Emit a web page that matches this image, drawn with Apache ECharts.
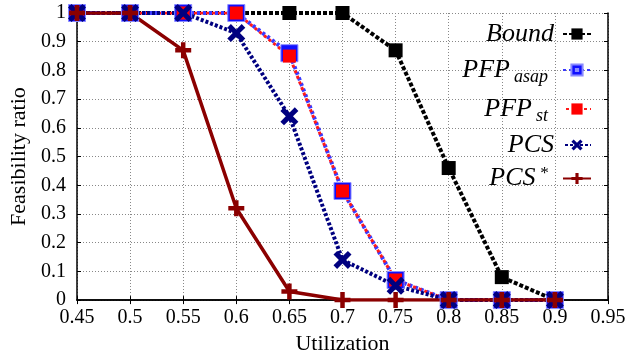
<!DOCTYPE html>
<html><head><meta charset="utf-8">
<script src="https://cdn.jsdelivr.net/npm/echarts@6/dist/echarts.min.js"></script>
<style>html,body{margin:0;padding:0;background:#fff}#c{width:641px;height:360px}</style>
</head><body><div id="c"></div>
<script>
const utilization = [0.45, 0.5, 0.55, 0.6, 0.65, 0.7, 0.75, 0.8, 0.85, 0.9];
const bound   = [1, 1, 1, 1, 1, 1, 0.87, 0.46, 0.08, 0];
const pfpAsap = [1, 1, 1, 1, 0.86, 0.38, 0.07, 0, 0, 0];
const pfpSt   = [1, 1, 1, 1, 0.85, 0.38, 0.07, 0, 0, 0];
const pcs     = [1, 1, 1, 0.93, 0.64, 0.14, 0.05, 0, 0, 0];
const pcsStar = [1, 1, 0.87, 0.32, 0.03, 0, 0, 0, 0, 0];

const serif = "'Liberation Serif'";
const pair = arr => utilization.map((u, i) => [u, arr[i]]);
const crossPath = 'path://M2,0 L5,3 L8,0 L10,2 L7,5 L10,8 L8,10 L5,7 L2,10 L0,8 L3,5 L0,2 Z';
const plusPath = 'path://M3.6,0 H6.4 V3.6 H10 V6.4 H6.4 V10 H3.6 V6.4 H0 V3.6 H3.6 Z';
const openRect = 'path://M0,0 H10 V10 H0 Z M4,4 V6 H6 V4 Z';

const chart = echarts.init(document.getElementById('c'));
const axisCommon = {
  type: 'value',
  axisLine: { show: true, lineStyle: { color: '#000', width: 1.5 } },
  axisTick: { show: true, inside: true, length: 4, lineStyle: { color: '#000' } },
  splitLine: { show: true, lineStyle: { color: '#888', type: [1, 2], width: 1 } },
};
chart.setOption({
  animation: false,
  backgroundColor: '#fff',
  grid: { left: 77, right: 33, top: 13, bottom: 58, show: false },
  xAxis: [{
    ...axisCommon, min: 0.45, max: 0.95, interval: 0.05,
    name: 'Utilization', nameLocation: 'middle', nameGap: 32,
    nameTextStyle: { fontFamily: serif, fontSize: 22, color: '#000' },
    axisLabel: { fontFamily: serif, fontSize: 20, color: '#000', margin: 8 },
  }, {
    ...axisCommon, position: 'top', min: 0.45, max: 0.95, interval: 0.05,
    axisLabel: { show: false }, splitLine: { show: false },
  }],
  yAxis: [{
    ...axisCommon, min: 0, max: 1, interval: 0.1,
    name: 'Feasibility ratio', nameLocation: 'middle', nameGap: 44,
    nameTextStyle: { fontFamily: serif, fontSize: 22, color: '#000' },
    axisLabel: { fontFamily: serif, fontSize: 20, color: '#000', margin: 11 },
  }, {
    ...axisCommon, position: 'right', min: 0, max: 1, interval: 0.1,
    axisLabel: { show: false }, splitLine: { show: false },
  }],
  legend: {
    orient: 'vertical', right: 44, top: 16, align: 'right',
    itemWidth: 28, itemHeight: 14, itemGap: 7,
    formatter: function (name) {
      if (name === 'PFP_asap') return '{m|PFP}{s|asap}';
      if (name === 'PFP_st') return '{m|PFP}{s|st}';
      if (name === 'PCS*') return '{m|PCS}{p|*}';
      return '{m|' + name + '}';
    },
    textStyle: {
      color: '#000', fontFamily: serif,
      rich: {
        m: { fontFamily: serif, fontStyle: 'italic', fontSize: 26, color: '#000', lineHeight: 26, padding: [0, 4, 0, 0] },
        s: { fontFamily: serif, fontStyle: 'italic', fontSize: 18, color: '#000', lineHeight: 26, padding: [14, 10, 0, 0] },
        p: { fontFamily: serif, fontStyle: 'italic', fontSize: 17, color: '#000', lineHeight: 26, padding: [0, 10, 10, 0] },
      }
    },
    data: ['Bound', 'PFP_asap', 'PFP_st', 'PCS', 'PCS*'],
  },
  series: [
    { name: 'Bound', type: 'line', data: pair(bound), symbol: 'rect', symbolSize: 14,
      itemStyle: { color: '#000' }, lineStyle: { color: '#000', width: 4, type: [4, 2] } },
    { name: 'PFP_asap', type: 'line', data: pair(pfpAsap), symbol: openRect, symbolSize: 17,
      itemStyle: { color: '#1010ff', borderColor: '#8a8aff', borderWidth: 1 },
      lineStyle: { color: '#3a3aff', width: 4, type: [3, 3] } },
    { name: 'PFP_st', type: 'line', data: pair(pfpSt), symbol: 'rect', symbolSize: 13,
      itemStyle: { color: '#ff0000' }, lineStyle: { color: '#ff1a1a', width: 3, type: [3, 3], dashOffset: 3 } },
    { name: 'PCS', type: 'line', data: pair(pcs), symbol: crossPath, symbolSize: 18,
      itemStyle: { color: '#000080' }, lineStyle: { color: '#000080', width: 4, type: [3, 2] } },
    { name: 'PCS*', type: 'line', data: pair(pcsStar), symbol: plusPath, symbolSize: 16,
      itemStyle: { color: '#8b0000' }, lineStyle: { color: '#8b0000', width: 3.5 } },
  ]
});
</script></body></html>
